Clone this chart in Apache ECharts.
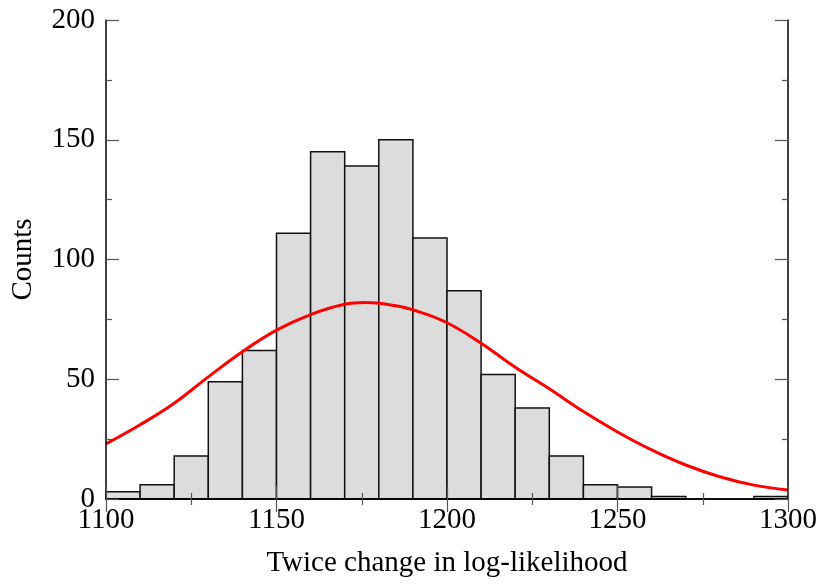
<!DOCTYPE html>
<html>
<head>
<meta charset="utf-8">
<script src="https://cdn.jsdelivr.net/npm/echarts@6/dist/echarts.min.js"></script>
<style>
  html, body { margin: 0; padding: 0; background: #fff; }
  #chart { width: 822px; height: 586px; }
</style>
</head>
<body>
<div id="chart"></div>
<script>
// histogram bins (left edges, width 10) and counts
var binStarts = [1100, 1110, 1120, 1130, 1140, 1150, 1160, 1170, 1180, 1190,
                 1200, 1210, 1220, 1230, 1240, 1250, 1260, 1270, 1280, 1290];
var binCounts = [3, 6, 18, 49, 62, 111, 145, 139, 150, 109,
                 87, 52, 38, 18, 6, 5, 1, 0, 0, 1];
var binWidth = 10;

// red fitted curve
var curveX = [1100, 1110, 1120, 1130, 1140, 1150, 1160, 1170, 1176, 1185, 1190, 1200,
              1210, 1220, 1230, 1240, 1250, 1260, 1270, 1280, 1290, 1300];
var curveY = [23, 31, 40, 51, 61.5, 70.5, 77, 81.3, 82, 80.7, 79, 73.6,
              65, 55, 46, 36.5, 28, 20.5, 14.2, 9.3, 5.8, 3.8];

var xTicks = [1100, 1150, 1200, 1250, 1300];
var yTicks = [0, 50, 100, 150, 200];

var font = 'Liberation Serif';

var histData = [];
for (var i = 0; i < binStarts.length; i++) {
  if (binCounts[i] > 0) histData.push([binStarts[i], binCounts[i]]);
}
var lineData = curveX.map(function (x, i) { return [x, curveY[i]]; });

var myChart = echarts.init(document.getElementById('chart'));

var tickCommon = {
  axisLine: { show: true, lineStyle: { color: '#000', width: 1.5 } },
  axisTick: { show: true, inside: true, length: 13, lineStyle: { color: '#555', width: 1.2 } },
  minorTick: { show: true, splitNumber: 2, length: 6, lineStyle: { color: '#555', width: 1.2 } },
  splitLine: { show: false }
};

var plain = function (v) { return String(v); };

var option = {
  animation: false,
  backgroundColor: '#fff',
  grid: { left: 106, right: 34, top: 20, bottom: 87 },
  xAxis: [
    Object.assign({
      type: 'value', min: xTicks[0], max: xTicks[xTicks.length - 1], interval: 50,
      position: 'bottom', z: 5,
      name: 'Twice change in log-likelihood', nameLocation: 'middle', nameGap: 50,
      nameTextStyle: { fontFamily: font, fontSize: 29, color: '#000' },
      axisLabel: { fontFamily: font, fontSize: 29, color: '#000', margin: 7, formatter: plain }
    }, tickCommon),
    Object.assign({
      type: 'value', min: xTicks[0], max: xTicks[xTicks.length - 1], interval: 50,
      position: 'top', z: 5,
      axisLabel: { show: false }
    }, tickCommon)
  ],
  yAxis: [
    Object.assign({
      type: 'value', min: yTicks[0], max: yTicks[yTicks.length - 1], interval: 50,
      position: 'left', z: 5,
      name: 'Counts', nameLocation: 'middle', nameGap: 68,
      nameTextStyle: { fontFamily: font, fontSize: 29, color: '#000' },
      axisLabel: { fontFamily: font, fontSize: 29, color: '#000', margin: 11, formatter: plain }
    }, tickCommon),
    Object.assign({
      type: 'value', min: yTicks[0], max: yTicks[yTicks.length - 1], interval: 50,
      position: 'right', z: 5,
      axisLabel: { show: false }
    }, tickCommon)
  ],
  series: [
    {
      type: 'custom',
      xAxisIndex: 0,
      yAxisIndex: 0,
      z: 2,
      data: histData,
      renderItem: function (params, api) {
        var x0 = api.value(0);
        var c = api.value(1);
        var p0 = api.coord([x0, c]);
        var p1 = api.coord([x0 + binWidth, 0]);
        return {
          type: 'rect',
          shape: { x: p0[0], y: p0[1], width: p1[0] - p0[0], height: p1[1] - p0[1] },
          style: { fill: '#dcdcdc', stroke: '#111', lineWidth: 1.5 }
        };
      }
    },
    {
      type: 'line',
      xAxisIndex: 0,
      yAxisIndex: 0,
      z: 3,
      data: lineData,
      smooth: 0.4,
      showSymbol: false,
      lineStyle: { color: '#ff0000', width: 3 }
    }
  ]
};

myChart.setOption(option);
</script>
</body>
</html>
